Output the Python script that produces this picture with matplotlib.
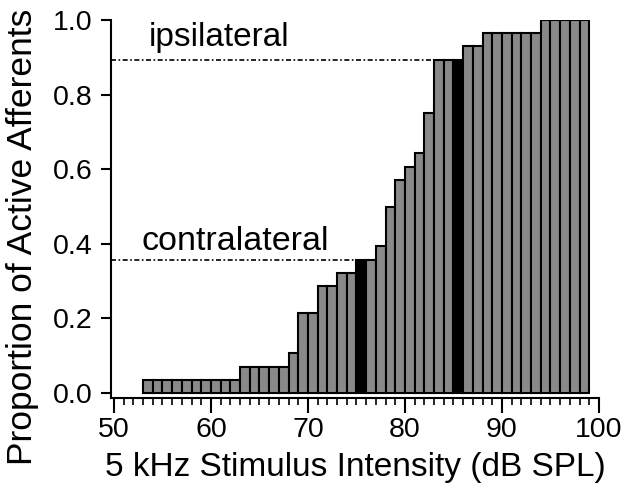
import numpy as np
import matplotlib.pyplot as plt

plt.rcParams['font.family'] = ['Liberation Sans', 'DejaVu Sans']

# stimulus levels (dB SPL), one bin per dB, left edge
levels = np.arange(53, 99)
proportion = [0.036] * 10 + [0.071] * 5 + [0.107, 0.214, 0.214, 0.286, 0.286,
              0.321, 0.321, 0.357, 0.357, 0.393, 0.500, 0.571, 0.607, 0.643,
              0.750, 0.893, 0.893, 0.893, 0.929, 0.929] + [0.964] * 6 + [1.0] * 5
highlight = [75, 85]          # contralateral / ipsilateral thresholds
contra_level, contra_val = 75, 0.357
ipsi_level, ipsi_val = 83, 0.893

fig = plt.figure(figsize=(6.4, 4.88), dpi=100)
ax = fig.add_axes([0.1734, 0.1844, 0.7625, 0.7746])

colors = ['black' if l in highlight else '#898989' for l in levels]
ax.bar(levels, proportion, width=1, align='edge', color=colors,
       edgecolor='black', linewidth=1.5, zorder=2)

x0 = 49.7
ax.plot([x0, ipsi_level], [ipsi_val, ipsi_val], color='black', lw=1.2,
        linestyle=(0, (3, 1.5, 1, 1.5)), zorder=1)
ax.plot([x0, contra_level], [contra_val, contra_val], color='black', lw=1.2,
        linestyle=(0, (3, 1.5, 1, 1.5)), zorder=1)
ax.text(53.6, 0.93, 'ipsilateral', fontsize=24, ha='left', va='baseline')
ax.text(52.8, 0.384, 'contralateral', fontsize=24.5, ha='left', va='baseline')

ax.set_xlim(x0, 100)
ax.set_ylim(-0.0134, 1.0)
ax.set_xticks(np.arange(50, 101, 10))
ax.set_xticks(np.arange(50, 101, 1), minor=True)
ax.set_yticks(np.arange(0, 1.01, 0.2))
ax.set_yticklabels(['%.1f' % v for v in np.arange(0, 1.01, 0.2)])

for s in ['top', 'right']:
    ax.spines[s].set_visible(False)
for s in ['left', 'bottom']:
    ax.spines[s].set_linewidth(1.5)

ax.tick_params(axis='both', which='major', labelsize=20.5, width=1.5, direction='out')
ax.tick_params(axis='x', which='major', length=11, pad=3)
ax.tick_params(axis='x', which='minor', length=5, width=1.2)
ax.tick_params(axis='y', which='major', length=7, pad=6)

ax.set_xlabel('5 kHz Stimulus Intensity (dB SPL)', fontsize=24, labelpad=6)
ax.set_ylabel('Proportion of Active Afferents', fontsize=25.5)
ax.yaxis.set_label_coords(-0.148, 0.426)

fig.savefig('out.png', dpi=100)
